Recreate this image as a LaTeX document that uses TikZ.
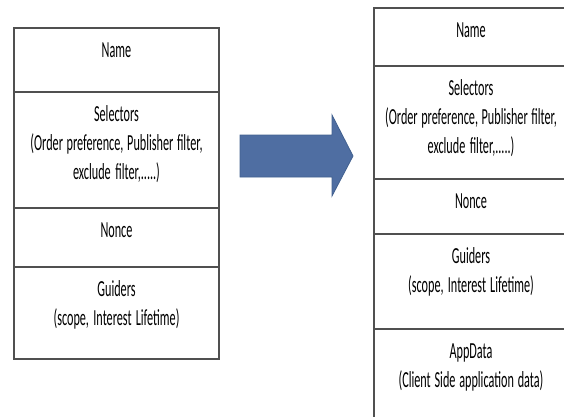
\documentclass[tikz,border=0pt]{standalone}
\usepackage{fontspec}
\newfontfamily\cellfont[FakeStretch=0.53]{Carlito}
\usepackage{tikz}
\usetikzlibrary{positioning}

\definecolor{gridline}{HTML}{505050}
\definecolor{arrowblue}{HTML}{4F6EA2}
\definecolor{arrowedge}{HTML}{41608F}

\begin{document}
\begin{tikzpicture}[
x=1pt, y=-1pt,
node distance=0pt,
field/.style={draw=gridline, line width=1.4pt, inner xsep=0pt, inner ysep=0pt, outer sep=0pt, align=center, font=\cellfont\fontsize{23}{29}\selectfont, text height=29pt, execute at begin node={\spaceskip=3.3pt plus 1pt minus 0.5pt\xspaceskip=3.3pt\relax}},
oldfield/.style={field, text width=205pt},
newfield/.style={field, text width=194pt},
bigarrow/.style={fill=arrowblue, draw=arrowedge, line width=0.8pt, line join=miter}
]
\clip (0,0) rectangle (564,416);
% old packet layout
\node[oldfield, text depth=35pt, anchor=north] (lname) at (116.5,28) {Name};
\node[oldfield, text depth=87pt, below=of lname] (lsel) {Selectors\\(Order preference, Publisher filter,\\exclude filter,.....)};
\node[oldfield, text depth=30pt, below=of lsel] (lnonce) {Nonce};
\node[oldfield, text depth=63pt, below=of lnonce] (lguide) {Guiders\\(scope, Interest Lifetime)};
% new packet layout
\node[newfield, text depth=29pt, anchor=north] (rname) at (471,8) {Name};
\node[newfield, text depth=84pt, below=of rname] (rsel) {Selectors\\(Order preference, Publisher filter,\\exclude filter,.....)};
\node[newfield, text depth=26pt, below=of rsel] (rnonce) {Nonce};
\node[newfield, text depth=66pt, below=of rnonce] (rguide) {Guiders\\(scope, Interest Lifetime)};
\node[newfield, text depth=71pt, below=of rguide] (rapp) {AppData\\(Client Side application data)};
% block arrow
\draw[bigarrow] (240,135) -- (332,135) -- (332,115) -- (353,156) -- (332,196) -- (332,177) -- (240,177) -- cycle;
\end{tikzpicture}
\end{document}
